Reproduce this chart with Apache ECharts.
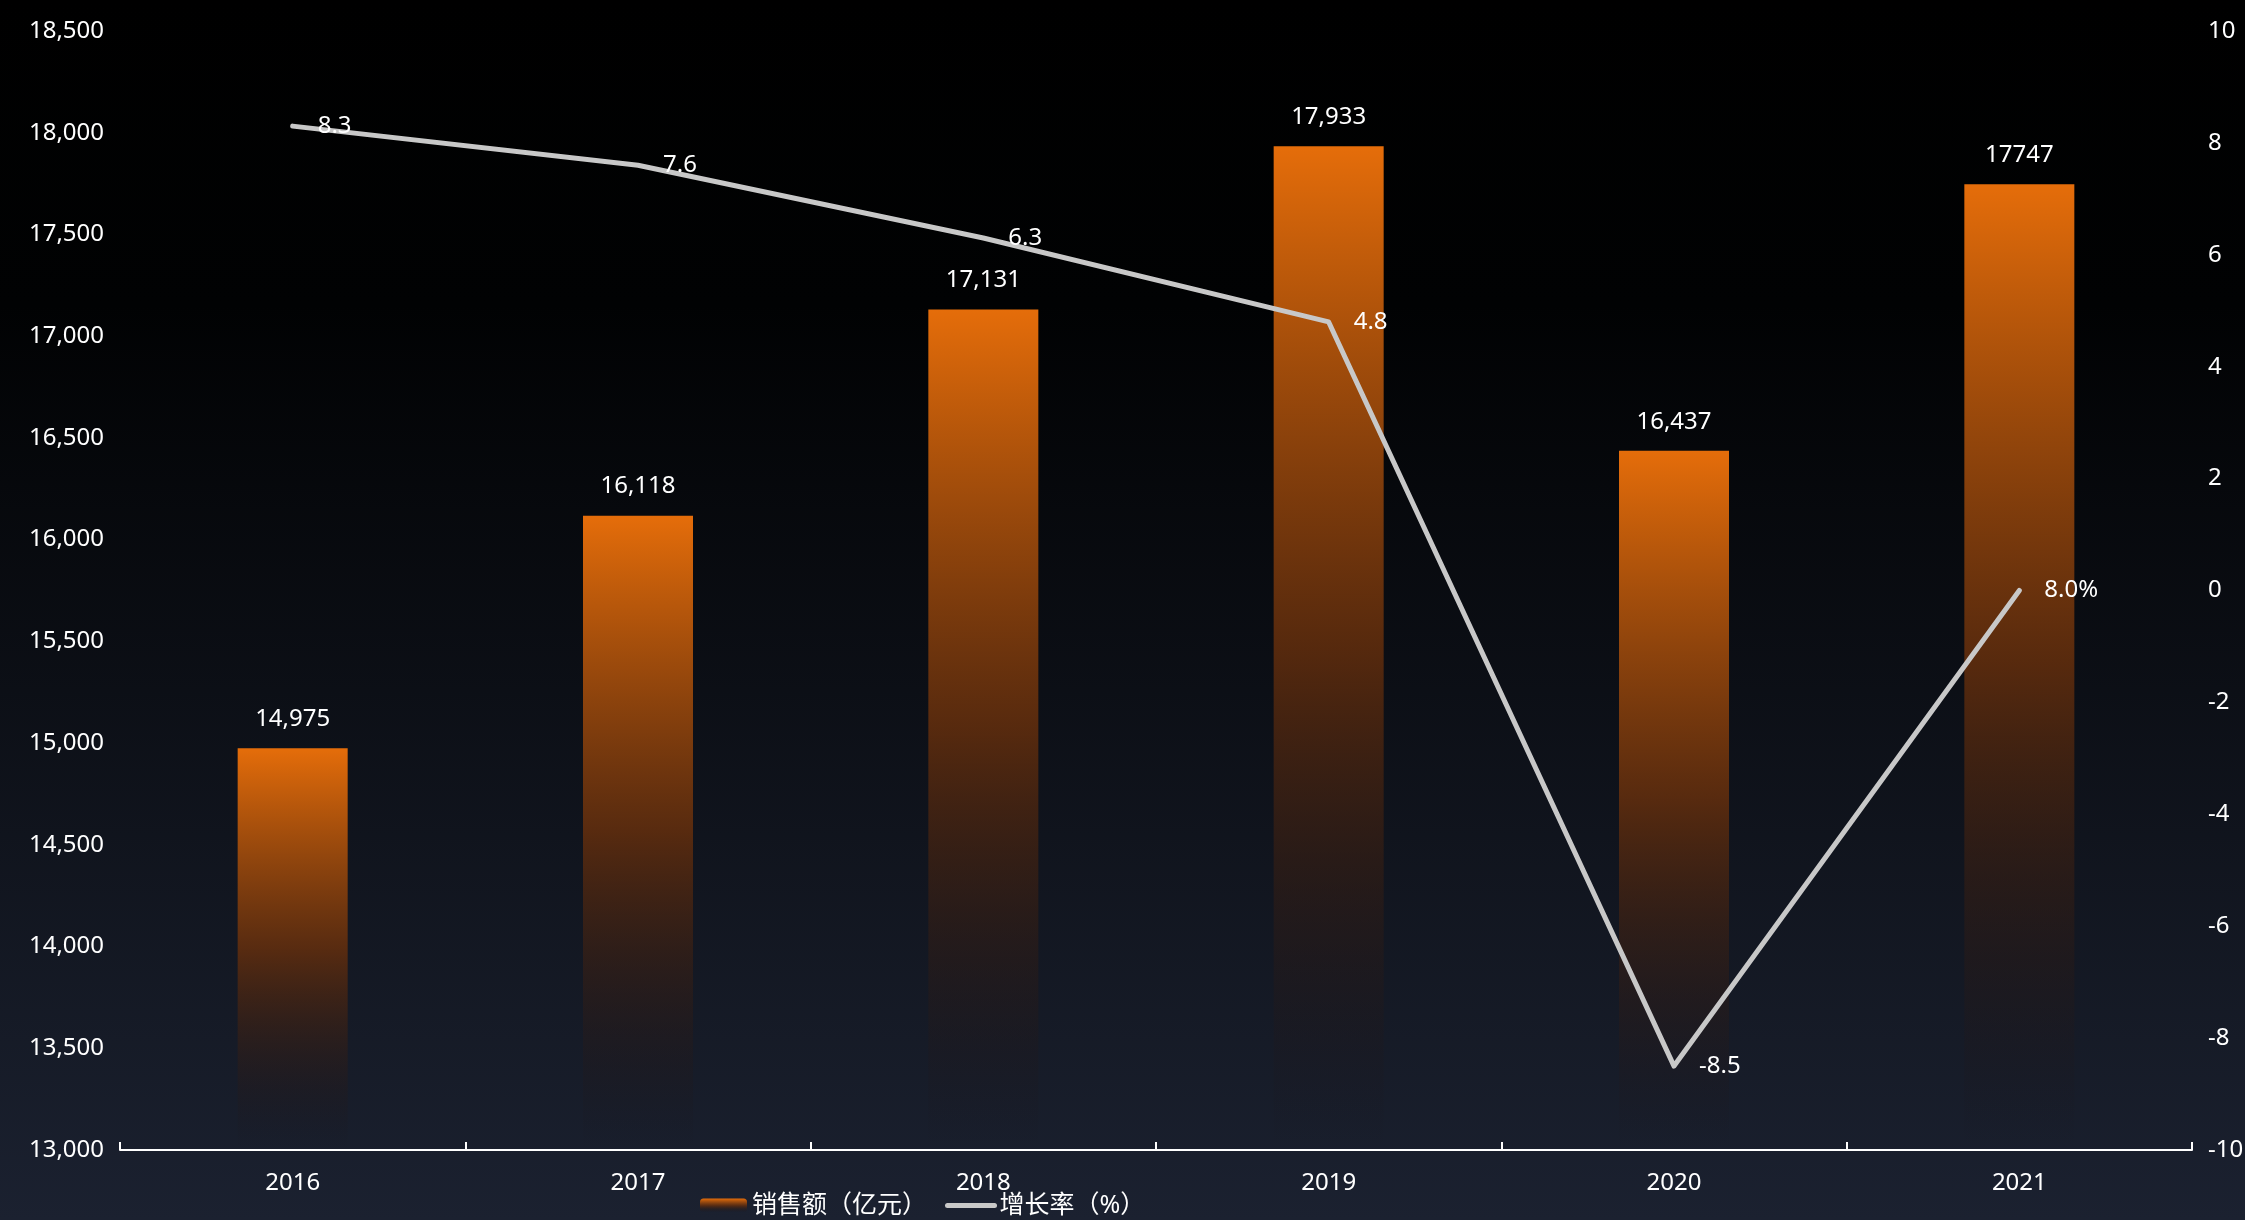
<!DOCTYPE html>
<html>
<head>
<meta charset="utf-8">
<title>销售额与增长率</title>
<script src="https://cdn.jsdelivr.net/npm/echarts/dist/echarts.min.js"></script>
<style>
  html, body { margin: 0; padding: 0; width: 100%; height: 100%; background: #000; }
  #main { width: 2245px; height: 1220px; }
</style>
</head>
<body>
<div id="main"></div>
<script>
// 年份
const years = ['2016', '2017', '2018', '2019', '2020', '2021'];
// 销售额（亿元）
const salesValues = [14975, 16118, 17131, 17933, 16437, 17747];
const salesLabels = ['14,975', '16,118', '17,131', '17,933', '16,437', '17747'];
// 增长率（%）
const growthValues = [8.3, 7.6, 6.3, 4.8, -8.5, 0];
const growthLabels = ['8.3', '7.6', '6.3', '4.8', '-8.5', '8.0%'];

const fontFamily = "'Noto Sans', 'Noto Sans CJK SC', sans-serif";

const chartInstance = echarts.init(document.getElementById('main'));

const option = {
  // 背景：上黑下深蓝
  backgroundColor: new echarts.graphic.LinearGradient(0, 0, 0, 1, [
    { offset: 0, color: '#000000' },
    { offset: 0.25, color: '#010203' },
    { offset: 1, color: '#1b2130' }
  ]),
  textStyle: { fontFamily: fontFamily },
  grid: {
    left: 120,
    right: 53,
    top: 31,
    bottom: 70,
    outerBoundsMode: 'none'
  },
  legend: {
    left: 695,
    top: 1188,
    itemWidth: 47,
    itemHeight: 14,
    itemGap: 18,
    textStyle: { color: '#ffffff', fontSize: 25, fontFamily: fontFamily },
    data: [
      { name: '销售额（亿元）' },
      { name: '增长率（%）', itemStyle: { opacity: 0 }, lineStyle: { width: 5, cap: 'round' } }
    ]
  },
  xAxis: {
    type: 'category',
    data: years,
    axisLine: { onZero: false, lineStyle: { color: '#ffffff', width: 2 } },
    axisTick: { show: true, inside: true, length: 8, lineStyle: { color: '#ffffff', width: 2 } },
    axisLabel: { color: '#ffffff', fontSize: 24, margin: 21 },
    splitLine: { show: false }
  },
  yAxis: [
    {
      type: 'value',
      min: 13000,
      max: 18500,
      interval: 500,
      axisLine: { show: false },
      axisTick: { show: false },
      splitLine: { show: false },
      axisLabel: { color: '#ffffff', fontSize: 24, margin: 16 }
    },
    {
      type: 'value',
      min: -10,
      max: 10,
      interval: 2,
      position: 'right',
      axisLine: { show: false },
      axisTick: { show: false },
      splitLine: { show: false },
      axisLabel: { color: '#ffffff', fontSize: 24, margin: 16 }
    }
  ],
  series: [
    {
      name: '销售额（亿元）',
      type: 'bar',
      data: salesValues,
      barWidth: 110,
      itemStyle: {
        // 橙色渐变到透明
        color: new echarts.graphic.LinearGradient(0, 0, 0, 1, [
          { offset: 0, color: '#e56d0a' },
          { offset: 0.5, color: 'rgba(105,48,12,0.8)' },
          { offset: 1, color: 'rgba(20,15,20,0)' }
        ])
      },
      label: {
        show: true,
        position: 'top',
        distance: 17,
        color: '#ffffff',
        fontSize: 24,
        formatter: (p) => salesLabels[p.dataIndex]
      }
    },
    {
      name: '增长率（%）',
      type: 'line',
      yAxisIndex: 1,
      data: growthValues,
      symbol: 'circle',
      symbolSize: 2,
      itemStyle: { color: '#c8c8c8' },
      lineStyle: { color: '#c8c8c8', width: 5, cap: 'round', join: 'round' },
      z: 5,
      label: {
        show: true,
        position: 'right',
        distance: 24,
        color: '#ffffff',
        fontSize: 24,
        formatter: (p) => growthLabels[p.dataIndex]
      }
    }
  ]
};

chartInstance.setOption(option);
window.addEventListener('resize', () => chartInstance.resize());
</script>
</body>
</html>
